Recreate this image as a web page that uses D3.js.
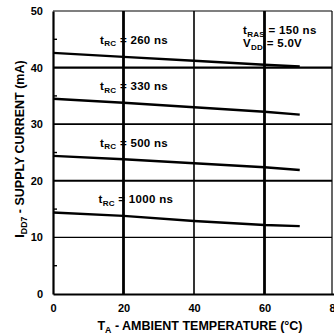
<!DOCTYPE html>
<html>
<head>
<meta charset="utf-8">
<script src="https://cdn.jsdelivr.net/npm/d3@7"></script>
<style>
  html, body { margin: 0; padding: 0; background: #fff; }
  svg { display: block; }
  text { font-family: "Liberation Sans", Arial, sans-serif; font-weight: bold; fill: #000; }
</style>
</head>
<body>
<svg id="chart" width="334" height="336"></svg>
<script>
// Ambient temperature (°C) sample points for each curve
const temps = [0, 20, 40, 60, 70];
// Supply current (mA) for each cycle time
const curve260 = [42.6, 41.9, 41.2, 40.5, 40.2];
const curve330 = [34.5, 33.8, 33.0, 32.2, 31.7];
const curve500 = [24.4, 23.8, 23.1, 22.4, 21.9];
const curve1000 = [14.4, 13.8, 12.9, 12.2, 12.0];
const curveNames = ["260 ns", "330 ns", "500 ns", "1000 ns"];
const labelTemps = [23, 23, 23, 23.5];
const labelValues = [44.2, 36.0, 26.0, 16.0];
const xTicks = [0, 20, 40, 60, 80];
const yTicks = [0, 10, 20, 30, 40, 50];

const svg = d3.select("#chart");
const x = d3.scaleLinear().domain([0, 80]).range([53, 335]);
const y = d3.scaleLinear().domain([0, 50]).range([294, 11]);

// grid lines, with the weights of the printed sheet
const vGrid = [{v: 20, w: 2.8}, {v: 40, w: 1.6}, {v: 60, w: 2.8}];
const hGrid = [{v: 40, w: 2.2}, {v: 30, w: 1.8}, {v: 20, w: 2}, {v: 10, w: 1.1}];
svg.append("g").selectAll("line").data(vGrid).join("line")
  .attr("x1", d => x(d.v)).attr("x2", d => x(d.v))
  .attr("y1", y(50)).attr("y2", y(0))
  .attr("stroke", "#000").attr("stroke-width", d => d.w);
svg.append("g").selectAll("line").data(hGrid).join("line")
  .attr("x1", x(0)).attr("x2", 332)
  .attr("y1", d => y(d.v)).attr("y2", d => y(d.v))
  .attr("stroke", "#000").attr("stroke-width", d => d.w);

// frame
svg.append("line").attr("x1", x(0)).attr("x2", 332).attr("y1", y(50)).attr("y2", y(50))
  .attr("stroke", "#000").attr("stroke-width", 1.2);
svg.append("line").attr("x1", 332).attr("x2", 332).attr("y1", y(50)).attr("y2", y(0))
  .attr("stroke", "#000").attr("stroke-width", 1.2);

const font = "'Liberation Sans', Arial, sans-serif";

// axes
const yAxis = d3.axisLeft(y).tickValues(yTicks).tickSize(0).tickPadding(10);
const gy = svg.append("g").attr("transform", `translate(${x(0)},0)`).call(yAxis);
gy.select(".domain").attr("stroke-width", 2.2);
gy.selectAll("text").style("font-size", "11px").style("font-family", font).style("font-weight", "bold");

const xAxis = d3.axisBottom(x).tickValues(xTicks).tickSize(0).tickPadding(10);
const gx = svg.append("g").attr("transform", `translate(0,${y(0)})`).call(xAxis);
gx.select(".domain").attr("stroke-width", 2.2);
gx.selectAll("text").style("font-size", "11px").style("font-family", font).style("font-weight", "bold");

// minor ticks on the current axis
svg.append("g").selectAll("line").data([5, 15, 25, 35, 45]).join("line")
  .attr("x1", x(0)).attr("x2", x(0) + 4)
  .attr("y1", d => y(d)).attr("y2", d => y(d))
  .attr("stroke", "#000").attr("stroke-width", 1.4);

// curves
const series = [curve260, curve330, curve500, curve1000];
const line = d3.line().x((d, i) => x(temps[i])).y(d => y(d));
svg.append("g").selectAll("path").data(series).join("path")
  .attr("d", d => line(d))
  .attr("fill", "none").attr("stroke", "#000").attr("stroke-width", 2.4);

// curve labels: tRC = ...
function subLabel(sel, main, sub, rest, size) {
  sel.style("font-size", size + "px");
  sel.append("tspan").text(main);
  sel.append("tspan").text(sub).attr("dy", 2.5).style("font-size", (size * 0.7) + "px");
  sel.append("tspan").text(rest).attr("dy", -2.5);
  return sel;
}
curveNames.forEach((name, i) => {
  const t = svg.append("text")
    .attr("x", x(labelTemps[i])).attr("y", y(labelValues[i]))
    .attr("text-anchor", "middle").style("letter-spacing", "0.3px");
  subLabel(t, "t", "RC", " = " + name, 11.5);
});

// test conditions
subLabel(svg.append("text").attr("x", 243).attr("y", 34).style("letter-spacing", "0.3px"),
  "t", "RAS", " = 150 ns", 11.5);
subLabel(svg.append("text").attr("x", 243).attr("y", 47).style("letter-spacing", "0.3px"),
  "V", "DD", " = 5.0V", 11.5);

// axis titles
subLabel(svg.append("text").attr("x", 200).attr("y", 330).attr("text-anchor", "middle"),
  "T", "A", " - AMBIENT TEMPERATURE (°C)", 12.5);
subLabel(svg.append("text").attr("transform", "translate(24,149) rotate(-90)").attr("text-anchor", "middle"),
  "I", "DD7", " - SUPPLY CURRENT (mA)", 12.5);
</script>
</body>
</html>
